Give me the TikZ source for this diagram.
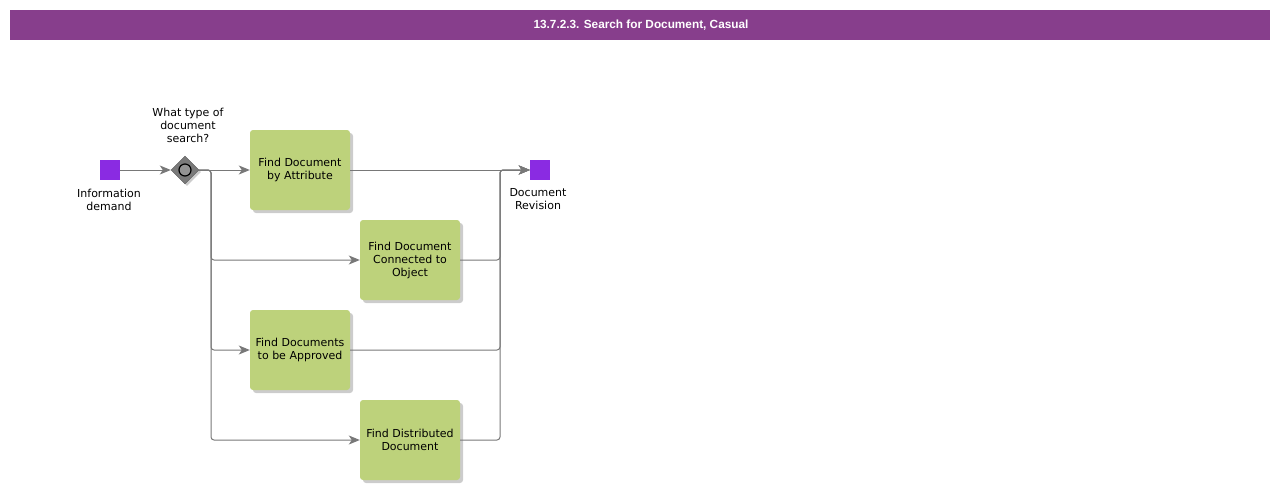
\documentclass[tikz,border=0pt]{standalone}
\usepackage{fontspec}
\setmainfont{DejaVu Sans}
\newfontfamily\titlefont{Liberation Sans}
\usetikzlibrary{shapes.geometric}
\usetikzlibrary{shadows}
\usetikzlibrary{arrows.meta}

\definecolor{barpurple}{RGB}{135,62,140}
\definecolor{eventpurple}{RGB}{138,43,226}
\definecolor{taskgreen}{RGB}{189,210,123}
\definecolor{flowgray}{RGB}{120,120,120}
\definecolor{gategray}{RGB}{122,122,122}

\tikzset{
	task/.style={fill=taskgreen, rounded corners=3pt, minimum width=100pt, minimum height=80pt,
		align=center, inner sep=2pt, font=\fontsize{11}{13}\selectfont,
		drop shadow={shadow xshift=3pt, shadow yshift=-3pt, fill=black, opacity=0.2}},
	event/.style={fill=eventpurple, minimum size=20pt, inner sep=0pt},
	gate/.style={diamond, fill=gategray, draw=gray!70!black, minimum width=28pt, minimum height=28pt,
		inner sep=0pt, drop shadow={shadow xshift=2pt, shadow yshift=-2pt, fill=black, opacity=0.2}},
	flow/.style={draw=flowgray, line width=1pt, rounded corners=3pt, -{Stealth[length=11pt,width=9pt,inset=3pt]}},
	lbl/.style={align=center, font=\fontsize{11}{13}\selectfont, inner sep=2pt}
}

\begin{document}
\begin{tikzpicture}[x=1pt, y=-1pt]
	\useasboundingbox (0,0) rectangle (1280,490);

	% title bar
	\fill [barpurple] (10,10) rectangle (1270,40);
	\node (title) [text=white, font=\titlefont\bfseries\fontsize{11.8}{13}\selectfont] at (641,25) {13.7.2.3. Search for Document, Casual};

	\node (ev) [event] at (110,170) {};
	\node (evlbl) [lbl] at (109,199.5) {Information\\demand};

	\node (gw) [gate] at (185,170) {};
	\node (gwc) [circle, draw=black, line width=1.2pt, fill=gray!85, minimum size=12pt, inner sep=0pt] at (gw.center) {};
	\node (gwlbl) [lbl] at (188,125) {What type of\\document\\search?};

	\node (t1) [task] at (300,170) {Find Document\\by Attribute};
	\node (t2) [task] at (410,260) {Find Document\\Connected to\\Object};
	\node (t3) [task] at (300,350) {Find Documents\\to be Approved};
	\node (t4) [task] at (410,440) {Find Distributed\\Document};

	\node (end) [event] at (540,170) {};
	\node (endlbl) [lbl] at (538,199.5) {Document\\Revision};

	\coordinate (split) at (211,170);
	\coordinate (join) at (500,170);

	\draw [flow] (ev.east) -- (gw.west);
	\draw [flow] (gw.east) -- (t1.west);
	\draw [flow] (gw.east) -- (split) |- (t2.west);
	\draw [flow] (gw.east) -- (split) |- (t3.west);
	\draw [flow] (gw.east) -- (split) |- (t4.west);

	\draw [flow] (t1.east) -- (end.west);
	\draw [flow] (t2.east) -| (join) -- (end.west);
	\draw [flow] (t3.east) -| (join) -- (end.west);
	\draw [flow] (t4.east) -| (join) -- (end.west);

\end{tikzpicture}
\end{document}
